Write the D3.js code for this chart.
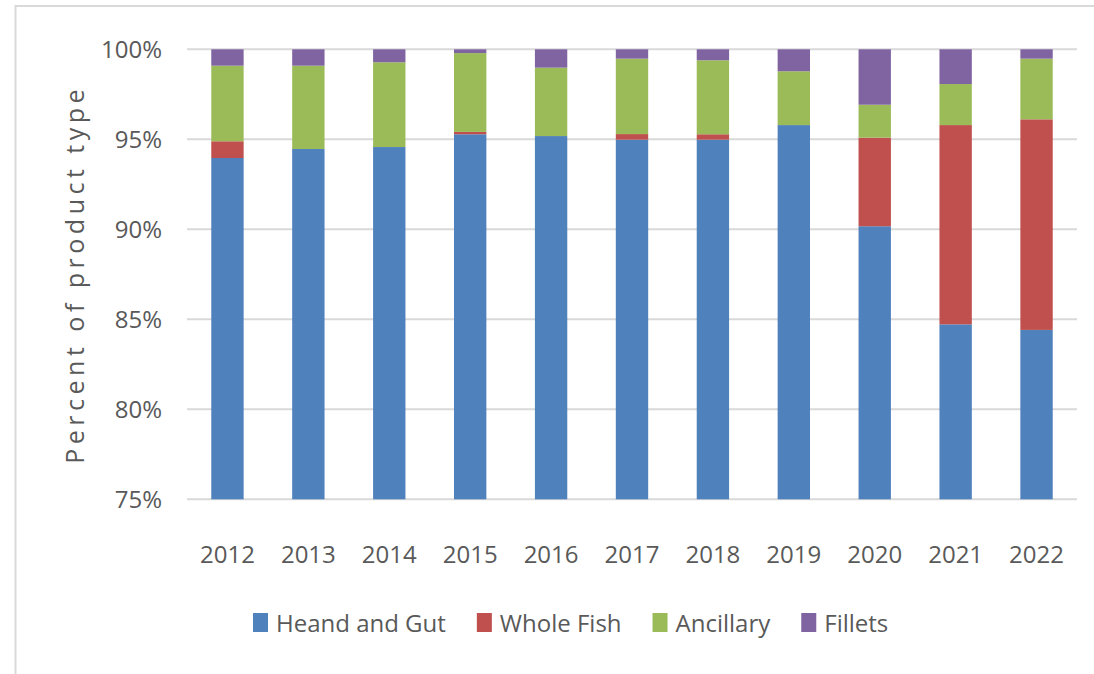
<!DOCTYPE html>
<html>
<head>
<meta charset="utf-8">
<script src="https://cdn.jsdelivr.net/npm/d3@7"></script>
<style>
  body { margin: 0; background: #fff; }
  svg { display: block; font-family: "Open Sans", sans-serif; }
  .tick-label { fill: #595959; font-size: 24px; }
  .legend-text { fill: #595959; font-size: 24px; }
  .axis-title { fill: #595959; font-size: 25px; letter-spacing: 4.5px; }
</style>
</head>
<body>
<svg width="1094" height="674"></svg>
<script>
//Chart data (percent of product type by year).
var years = ['2012', '2013', '2014', '2015', '2016', '2017', '2018', '2019', '2020', '2021', '2022'];
var headAndGut = [93.96, 94.46, 94.57, 95.28, 95.18, 94.98, 94.98, 95.79, 90.17, 84.72, 84.41];
var wholeFish  = [0.93, 0.00, 0.00, 0.13, 0.00, 0.31, 0.30, 0.00, 4.92, 11.07, 11.70];
var ancillary  = [4.20, 4.63, 4.71, 4.38, 3.80, 4.19, 4.11, 2.99, 1.83, 2.28, 3.37];
var fillets    = [0.91, 0.91, 0.72, 0.21, 1.02, 0.52, 0.61, 1.22, 3.08, 1.93, 0.52];
var seriesNames = ['Heand and Gut', 'Whole Fish', 'Ancillary', 'Fillets'];
var yTicks = [0.75, 0.80, 0.85, 0.90, 0.95, 1.00];

var colors = ['#4F81BD', '#C0504D', '#9BBB59', '#8064A2'];
var keys = ['hg', 'wf', 'anc', 'fil'];

var svg = d3.select('svg');

//Outer chart border (only top and left visible).
svg.append('rect')
  .attr('x', 15.5).attr('y', 6)
  .attr('width', 1200).attr('height', 800)
  .attr('fill', 'none')
  .attr('stroke', '#D9D9D9')
  .attr('stroke-width', 2);

//Plot area.
var plot = {left: 187, right: 1077, top: 49.3, bottom: 499.3};

//Build rows for the stack layout.
var rows = years.map(function(y, i) {
  return {year: y, hg: headAndGut[i] / 100, wf: wholeFish[i] / 100, anc: ancillary[i] / 100, fil: fillets[i] / 100};
});
var stacked = d3.stack().keys(keys)(rows);

var xScale = d3.scaleBand()
  .domain(years)
  .range([plot.left, plot.right])
  .paddingInner(0.6)
  .paddingOuter(0.3);
var yScale = d3.scaleLinear()
  .domain([0.75, 1])
  .range([plot.bottom, plot.top])
  .clamp(true);

//Gridlines.
svg.append('g')
  .selectAll('line')
  .data(yTicks)
  .join('line')
  .attr('x1', plot.left)
  .attr('x2', plot.right)
  .attr('y1', function(d) { return yScale(d); })
  .attr('y2', function(d) { return yScale(d); })
  .attr('stroke', '#D9D9D9')
  .attr('stroke-width', 2);

//Bars.
svg.append('g')
  .selectAll('g')
  .data(stacked)
  .join('g')
  .attr('fill', function(d, i) { return colors[i]; })
  .selectAll('rect')
  .data(function(d) { return d; })
  .join('rect')
  .attr('x', function(d) { return xScale(d.data.year); })
  .attr('width', xScale.bandwidth())
  .attr('y', function(d) { return yScale(d[1]); })
  .attr('height', function(d) { return Math.max(0, yScale(d[0]) - yScale(d[1])); });

//Y tick labels.
var fmt = d3.format('.0%');
svg.append('g')
  .selectAll('text')
  .data(yTicks)
  .join('text')
  .attr('class', 'tick-label')
  .attr('x', 162)
  .attr('y', function(d) { return yScale(d); })
  .attr('dy', '0.35em')
  .attr('text-anchor', 'end')
  .text(function(d) { return fmt(d); });

//X tick labels.
svg.append('g')
  .selectAll('text')
  .data(years)
  .join('text')
  .attr('class', 'tick-label')
  .attr('x', function(d) { return xScale(d) + xScale.bandwidth() / 2; })
  .attr('y', 563)
  .attr('text-anchor', 'middle')
  .text(function(d) { return d; });

//Y axis title.
svg.append('text')
  .attr('class', 'axis-title')
  .attr('text-anchor', 'middle')
  .attr('transform', 'translate(84,' + ((plot.top + plot.bottom) / 2) + ') rotate(-90)')
  .text('Percent of product type');

//Legend.
var legend = svg.append('g');
var lx = 253;
seriesNames.forEach(function(name, i) {
  legend.append('rect')
    .attr('x', lx).attr('y', 613)
    .attr('width', 15).attr('height', 19)
    .attr('fill', colors[i]);
  var t = legend.append('text')
    .attr('class', 'legend-text')
    .attr('x', lx + 23)
    .attr('y', 632)
    .text(name);
  lx += 23 + t.node().getComputedTextLength() + 31;
});
</script>
</body>
</html>
